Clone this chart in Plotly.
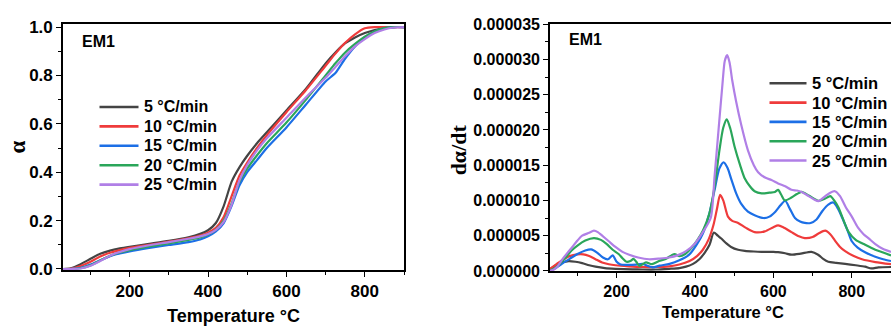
import plotly.graph_objects as go

# ---------------- data ----------------
rate_labels = ["5 °C/min", "10 °C/min", "15 °C/min", "20 °C/min", "25 °C/min"]
colors = ["#444444", "#ef3b3b", "#1c6fe6", "#2aa65a", "#b07fe6"]

# Conversion alpha vs temperature (left panel)
temp_alpha = [30, 50, 75, 100, 125, 150, 175, 200, 250, 300, 350, 380, 400, 420, 440,
              460, 480, 500, 525, 550, 600, 650, 700, 725, 750, 775, 800, 825, 850, 875, 900]
alpha_5 = [0, 0.003, 0.02, 0.042, 0.063, 0.076, 0.085, 0.092, 0.104, 0.116, 0.131, 0.145, 0.16,
           0.19, 0.26, 0.36, 0.42, 0.468, 0.52, 0.565, 0.655, 0.745, 0.85, 0.895, 0.933, 0.957,
           0.975, 0.988, 0.996, 1.0, 1.0]
alpha_10 = [0, 0.001, 0.012, 0.03, 0.052, 0.067, 0.078, 0.087, 0.1, 0.113, 0.127, 0.138, 0.15,
            0.17, 0.215, 0.3, 0.385, 0.44, 0.5, 0.553, 0.648, 0.74, 0.84, 0.89, 0.935, 0.97,
            0.995, 1.0, 1.0, 1.0, 1.0]
alpha_15 = [0, 0, 0.005, 0.018, 0.036, 0.053, 0.064, 0.073, 0.087, 0.099, 0.111, 0.122, 0.135,
            0.155, 0.19, 0.26, 0.345, 0.4, 0.45, 0.5, 0.585, 0.68, 0.775, 0.81, 0.87, 0.92,
            0.958, 0.982, 0.996, 1.0, 1.0]
alpha_20 = [0, 0, 0.003, 0.015, 0.035, 0.055, 0.068, 0.078, 0.093, 0.106, 0.12, 0.13, 0.142,
            0.162, 0.2, 0.27, 0.36, 0.415, 0.47, 0.52, 0.605, 0.7, 0.8, 0.85, 0.895, 0.93,
            0.96, 0.982, 0.996, 1.0, 1.0]
alpha_25 = [0, 0, 0.002, 0.013, 0.033, 0.055, 0.07, 0.082, 0.098, 0.111, 0.125, 0.135, 0.145,
            0.162, 0.195, 0.265, 0.365, 0.43, 0.49, 0.54, 0.625, 0.71, 0.79, 0.835, 0.88, 0.92,
            0.95, 0.975, 0.99, 0.998, 1.0]

# Conversion rate d(alpha)/dt (right panel), values in units of 1e-6
rate_scale = 1e-6
t_5 = [30, 45, 61, 78, 95, 112, 130, 146, 170, 197, 240, 266, 300, 334, 360, 377, 395, 411, 425,
       437, 448, 458, 467, 480, 492, 510, 527, 550, 569, 600, 612, 630, 646, 670, 697, 714, 727,
       740, 760, 783, 810, 834, 850, 868, 900]
r_5 = [0.2, 0.8, 1.2, 1.4, 1.3, 1.1, 0.8, 0.6, 0.4, 0.3, 0.22, 0.2, 0.2, 0.3, 0.4, 0.6, 1.0, 1.65,
       2.6, 3.7, 5.45, 5.0, 4.6, 3.9, 3.4, 3.0, 2.85, 2.75, 2.7, 2.7, 2.65, 2.5, 2.3, 2.45, 2.7,
       2.3, 1.7, 1.3, 1.15, 1.0, 0.8, 0.6, 0.35, 0.5, 0.55]
t_10 = [30, 45, 60, 80, 100, 115, 130, 145, 163, 180, 197, 230, 266, 300, 334, 360, 386, 405, 420,
        435, 447, 456, 464, 472, 484, 495, 510, 530, 552, 578, 600, 612, 625, 646, 665, 680, 700,
        715, 732, 745, 757, 770, 783, 805, 826, 860, 900]
r_10 = [0.3, 0.9, 1.5, 2.1, 2.35, 2.35, 2.1, 1.7, 1.2, 0.95, 0.8, 0.65, 0.55, 0.55, 0.65, 0.9,
        1.4, 2.1, 3.0, 4.5, 6.5, 8.8, 10.8, 10.0, 7.7, 7.1, 6.8, 6.1, 5.5, 5.6, 6.2, 6.45, 6.2,
        5.5, 4.9, 4.65, 4.8, 5.3, 5.7, 5.2, 4.3, 3.4, 2.8, 2.1, 1.65, 1.25, 0.95]
t_15 = [30, 45, 60, 80, 100, 120, 135, 150, 165, 178, 190, 200, 210, 230, 250, 266, 280, 292, 310,
        335, 360, 385, 405, 420, 435, 450, 462, 473, 483, 492, 505, 518, 535, 552, 575, 590, 605,
        618, 630, 642, 655, 668, 680, 695, 710, 725, 740, 753, 765, 775, 790, 800, 815, 835, 860,
        880, 900]
r_15 = [0, 0.4, 1.0, 1.7, 2.4, 2.9, 3.05, 2.6, 1.9, 1.65, 2.2, 1.3, 0.9, 0.85, 0.9, 1.0, 0.7, 0.5,
        0.75, 1.0, 1.5, 2.3, 3.8, 5.3, 7.8, 11.5, 14.5, 15.4, 14.6, 13.1, 11.0, 9.5, 8.4, 7.9, 7.5,
        7.7, 8.4, 9.3, 9.95, 8.8, 7.5, 7.0, 6.8, 6.8, 7.3, 8.5, 9.4, 9.7, 8.8, 7.6, 5.6, 4.2, 3.3,
        2.6, 2.0, 1.65, 1.4]
t_20 = [30, 45, 60, 70, 85, 100, 120, 142, 160, 175, 190, 205, 215, 225, 235, 243, 250, 258, 265,
        275, 290, 308, 325, 340, 348, 360, 375, 390, 405, 420, 437, 450, 462, 472, 481, 490, 501,
        515, 527, 540, 552, 570, 590, 604, 612, 620, 629, 646, 660, 672, 690, 715, 730, 745, 755,
        766, 778, 792, 810, 834, 860, 880, 900]
r_20 = [0.05, 0.5, 1.3, 1.9, 2.9, 3.6, 4.3, 4.65, 4.4, 3.8, 3.0, 2.4, 1.8, 1.3, 1.4, 1.7, 1.3, 0.7,
        0.9, 1.2, 0.95, 1.4, 1.7, 2.2, 2.4, 2.1, 2.4, 3.2, 4.3, 5.7, 8.2, 12.0, 17.0, 20.3, 21.5,
        20.2, 17.6, 15.0, 13.1, 12.0, 11.3, 11.0, 11.1, 11.2, 11.5, 10.8, 10.0, 10.4, 10.9, 11.2,
        10.7, 9.95, 10.2, 10.6, 10.0, 9.0, 7.3, 5.5, 4.4, 3.7, 3.0, 2.6, 2.2]
t_25 = [30, 40, 50, 61, 75, 87, 100, 112, 130, 142, 152, 163, 180, 197, 215, 232, 255, 283, 310,
        334, 355, 377, 400, 420, 440, 450, 460, 470, 476, 482, 488, 495, 505, 518, 535, 550, 561,
        580, 595, 612, 630, 646, 660, 672, 690, 705, 715, 730, 745, 757, 770, 785, 800, 815, 830,
        843, 860, 880, 900]
r_25 = [0, 0.2, 0.7, 1.6, 2.6, 3.4, 4.3, 5.0, 5.4, 5.7, 5.5, 5.0, 4.2, 3.4, 2.7, 2.3, 1.9, 1.65,
        1.75, 1.9, 2.2, 2.8, 3.9, 5.5, 7.5, 13.5, 20.0, 26.5, 29.8, 30.6, 29.6, 27.0, 24.0, 20.7,
        17.1, 15.0, 14.0, 13.2, 12.9, 12.4, 12.0, 11.5, 11.4, 11.2, 10.6, 10.1, 9.9, 10.5, 11.1,
        11.3, 10.6, 9.0, 7.7, 6.2, 5.2, 4.6, 3.8, 3.1, 2.7]

alpha_series = [alpha_5, alpha_10, alpha_15, alpha_20, alpha_25]
rate_temps = [t_5, t_10, t_15, t_20, t_25]
rate_series = [r_5, r_10, r_15, r_20, r_25]

x_ticks = [200, 400, 600, 800]
alpha_ticks = [0.0, 0.2, 0.4, 0.6, 0.8, 1.0]
rate_ticks = [0, 5e-6, 10e-6, 15e-6, 20e-6, 25e-6, 30e-6, 35e-6]

# ---------------- figure ----------------
W, H = 891, 334
SANS = "Liberation Sans, Arial, sans-serif"
SERIF = "Liberation Serif, Times New Roman, serif"

fig = go.Figure()

for lab, col, ys in zip(rate_labels, colors, alpha_series):
    fig.add_trace(go.Scatter(x=temp_alpha, y=ys, mode="lines", name=lab, showlegend=False,
                             line=dict(color=col, width=2.2, shape="spline", smoothing=0.6),
                             xaxis="x", yaxis="y"))

for lab, col, ts, rs in zip(rate_labels, colors, rate_temps, rate_series):
    fig.add_trace(go.Scatter(x=ts, y=[v * rate_scale for v in rs], mode="lines", name=lab,
                             showlegend=False,
                             line=dict(color=col, width=2.2, shape="spline", smoothing=0.7),
                             xaxis="x2", yaxis="y2"))


def px_x(p):
    return p / W


def px_y(p):
    return 1 - p / H


axis_common = dict(showline=True, linecolor="black", linewidth=1.6, ticks="outside",
                   ticklen=5, tickwidth=1.4, tickcolor="black", showgrid=False,
                   zeroline=False)

fig.update_layout(
    width=W, height=H,
    margin=dict(l=0, r=0, t=0, b=0),
    paper_bgcolor="white", plot_bgcolor="white",
    showlegend=False,
    xaxis=dict(**axis_common, domain=[px_x(63), px_x(404)], range=[30, 900],
               tickvals=x_ticks, mirror=True, anchor="y",
               tickfont=dict(family=SANS, size=17, color="black", weight="bold"),
               minor=dict(ticks="outside", ticklen=3, tickwidth=1.2, tickcolor="black",
                          dtick=100, tick0=0)),
    yaxis=dict(**axis_common, domain=[px_y(276), px_y(17)], range=[-0.004, 1.012],
               tickvals=alpha_ticks, tickformat=".1f", mirror=True, anchor="x",
               tickfont=dict(family=SANS, size=17, color="black", weight="bold"),
               minor=dict(ticks="outside", ticklen=3, tickwidth=1.2, tickcolor="black",
                          dtick=0.1, tick0=0)),
    xaxis2=dict(**axis_common, domain=[px_x(550), 1.0], range=[30, 900],
                tickvals=x_ticks, mirror=True, anchor="y2",
                tickfont=dict(family=SANS, size=16, color="black", weight="bold"),
                minor=dict(ticks="outside", ticklen=3, tickwidth=1.2, tickcolor="black",
                           dtick=100, tick0=0)),
    yaxis2=dict(**axis_common, domain=[px_y(277), px_y(17)], range=[0, 3.5e-5],
                tickvals=rate_ticks, tickformat=".6f", mirror=False, anchor="x2",
                tickfont=dict(family=SANS, size=16, color="black", weight="bold"),
                minor=dict(ticks="outside", ticklen=3, tickwidth=1.2, tickcolor="black",
                           dtick=2.5e-6, tick0=0)),
)

annotations = [
    dict(text="EM1", x=px_x(80), y=px_y(35), xanchor="left", yanchor="middle",
         font=dict(family=SANS, size=16, color="black", weight="bold")),
    dict(text="EM1", x=px_x(567), y=px_y(33), xanchor="left", yanchor="middle",
         font=dict(family=SANS, size=16, color="black", weight="bold")),
    dict(text="Temperature °C", x=px_x(233.5), y=px_y(325), xanchor="center", yanchor="middle",
         font=dict(family=SANS, size=18, color="black", weight="bold")),
    dict(text="Temperature °C", x=px_x(723), y=px_y(320), xanchor="center", yanchor="middle",
         font=dict(family=SANS, size=16.5, color="black", weight="bold")),
    dict(text="α", x=px_x(18), y=px_y(147), xanchor="center", yanchor="middle", textangle=-90,
         font=dict(family=SERIF, size=23, color="black", weight="bold")),
    dict(text="dα/dt", x=px_x(458), y=px_y(150), xanchor="center", yanchor="middle",
         textangle=-90, font=dict(family=SERIF, size=22, color="black", weight="bold")),
]

# Hand-placed legends (one per panel), matching the reference layout
shapes = []
legend_specs = [
    # (line x0, line x1, text x, first row y, row step, font size)
    (99.5, 138.5, 142.0, 104.3, 20.45, 16),
    (769.5, 806.5, 810.0, 79.3, 20.35, 16.5),
]
for lx0, lx1, tx, y0, dy, fs in legend_specs:
    for i, (lab, col) in enumerate(zip(rate_labels, colors)):
        yy = y0 + i * dy
        shapes.append(dict(type="line", xref="paper", yref="paper",
                           x0=px_x(lx0), x1=px_x(lx1), y0=px_y(yy), y1=px_y(yy),
                           line=dict(color=col, width=2.6)))
        annotations.append(dict(text=lab, x=px_x(tx), y=px_y(yy), xanchor="left",
                                yanchor="middle",
                                font=dict(family=SANS, size=fs, color="black", weight="bold")))

for a in annotations:
    a.update(xref="paper", yref="paper", showarrow=False)
fig.update_layout(annotations=annotations, shapes=shapes)

# remove the default page margin so the 891x334 figure fills the window exactly
fig.write_html("out.html",
               config={"displayModeBar": False},
               post_script="document.body.style.margin='0';"
                           "document.documentElement.style.overflow='hidden';")
